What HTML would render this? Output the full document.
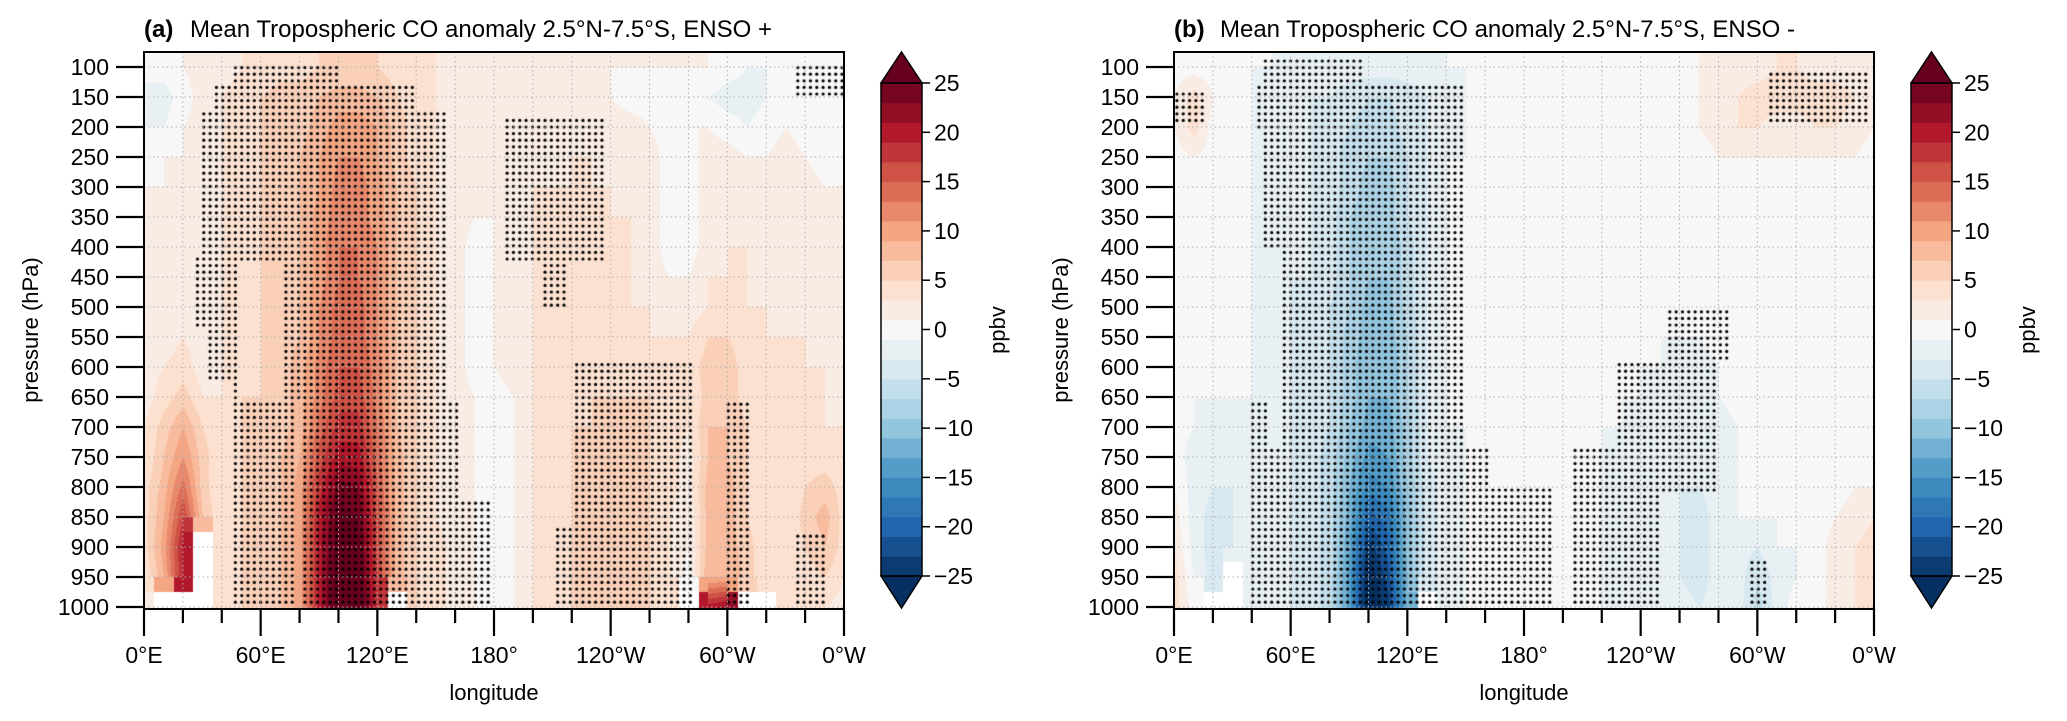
<!DOCTYPE html>
<html><head><meta charset="utf-8">
<style>
html,body{margin:0;padding:0;background:#fff;}
#wrap{position:relative;width:2067px;height:721px;overflow:hidden;}
canvas,svg{position:absolute;left:0;top:0;}
text{font-family:"Liberation Sans",sans-serif;fill:#000;}
</style></head>
<body>
<div id="wrap">
<canvas id="cv" width="2067" height="721"></canvas>
<svg id="sv" width="2067" height="721"></svg>
</div>
<script>
// ---- data ----
const LONS = [0,10,20,30,40,50,60,70,80,90,100,110,120,130,140,150,160,170,180,190,200,210,220,230,240,250,260,270,280,290,300,310,320,330,340,350,360];
const PRESS = [100,150,200,250,300,350,400,450,500,550,600,650,700,750,800,850,900,950,1000];
const N = NaN;
const fieldA = [
[-1,0,1,2,2,3,3,4,4,5,5,5,5,4,3,3,2,2,1,1,1,2,2,1,1,1,1,1,1,1,0,-1,-1,0,-1,-1,-1],
[-1,-2,0,2,3,4,5,6,6,7,8,8,7,5,4,3,2,2,1,1,1,1,1,1,1,0,0,0,-1,-1,-2,-2,-1,0,-1,-1,-1],
[-1,-1,1,2,3,4,5,6,6,8,10,10,9,6,4,3,2,2,2,1,1,2,2,2,2,2,1,0,1,1,0,-1,0,1,0,-1,-1],
[0,1,1,2,3,4,5,6,7,9,11,11,9,6,4,3,2,1,2,2,2,2,3,3,2,2,2,0,0,2,2,1,1,2,1,0,0],
[1,1,1,2,3,4,5,6,7,9,12,12,10,7,5,3,2,1,2,2,3,3,3,3,3,2,2,0,0,2,2,2,2,2,2,1,1],
[1,1,2,2,3,4,5,6,7,10,12,12,10,7,5,3,2,1,1,2,3,3,3,3,3,3,2,0,0,2,3,2,2,2,2,1,1],
[1,2,2,2,3,4,5,6,7,10,13,13,11,7,5,3,2,0,1,2,3,3,3,3,3,3,2,0,0,2,3,3,2,2,2,1,1],
[1,2,2,2,3,4,5,6,7,10,13,13,11,7,5,3,2,0,1,2,3,3,3,3,3,3,2,1,1,3,3,3,2,2,2,1,1],
[2,2,3,2,3,4,5,6,7,11,14,14,11,7,5,3,2,0,1,2,3,3,3,3,3,3,3,2,2,3,4,3,3,2,2,2,2],
[2,2,3,2,3,4,5,6,7,11,14,14,11,7,5,3,2,0,1,2,3,3,3,3,3,3,3,3,3,5,5,4,3,3,3,2,2],
[2,3,4,2,3,4,5,6,8,12,15,15,12,7,5,3,2,0,1,2,3,3,4,4,4,4,4,4,4,6,6,4,3,3,3,3,2],
[2,4,6,3,3,5,5,6,8,12,16,16,12,7,5,3,2,1,0,1,3,3,4,5,5,5,5,4,3,6,6,4,3,3,3,3,2],
[3,6,9,5,3,5,5,6,8,14,18,18,13,7,5,3,2,1,0,1,3,4,5,5,6,6,5,4,3,7,7,5,3,3,3,3,3],
[3,7,11,6,3,5,6,7,9,16,20,20,14,8,5,3,2,1,0,1,3,4,5,6,6,6,5,4,2,7,7,5,3,3,4,4,3],
[4,8,14,6,3,5,6,7,10,18,24,23,15,8,5,3,2,1,0,1,3,4,5,6,6,6,5,4,2,8,8,5,3,3,5,6,4],
[4,9,17,7,3,5,6,7,10,20,26,25,16,8,5,3,2,1,0,1,3,4,5,6,6,6,5,3,1,8,8,5,3,3,6,8,4],
[4,10,20,N,3,5,6,7,10,20,27,26,16,8,5,4,2,1,0,1,3,4,5,6,6,6,5,3,1,8,8,6,3,3,5,7,4],
[3,9,19,N,3,5,6,7,10,20,28,27,17,8,5,4,2,1,0,1,3,4,5,6,6,6,5,3,0,9,9,6,3,3,4,5,3],
[2,N,N,N,3,5,6,7,10,20,28,28,18,N,5,4,2,1,0,1,3,4,5,6,6,6,5,3,N,20,22,N,N,3,3,3,2]
];
const fieldB = [
[0,0,0,0,-1,-1,-2,-2,-2,-2,-2,-2,-2,-2,-1,-1,-1,-1,-1,-1,-1,-1,0,0,0,0,0,1,2,2,2,3,3,2,2,2,2],
[1,4,1,-1,-1,-2,-3,-3,-3,-4,-5,-5,-4,-3,-2,-1,-1,-1,0,0,0,-1,-1,0,0,0,0,1,2,3,4,4,4,4,4,3,2],
[1,4,0,-1,-1,-2,-3,-3,-4,-5,-6,-6,-4,-3,-2,-1,0,0,0,-1,-1,-1,-1,-1,-1,0,0,1,2,3,3,2,2,3,3,2,1],
[0,1,0,-1,-1,-2,-3,-3,-4,-6,-7,-7,-5,-3,-1,-1,0,0,0,-1,-1,-1,-1,-1,-1,-1,0,0,1,1,1,1,1,1,1,1,0],
[0,0,0,-1,-1,-2,-3,-3,-4,-6,-8,-8,-5,-3,-1,-1,0,0,0,-1,-1,-1,-1,-1,-1,-1,0,0,0,0,0,0,0,0,0,0,0],
[0,0,0,-1,-1,-2,-3,-3,-4,-7,-8,-8,-5,-3,-1,-1,0,0,0,-1,-1,-1,-1,-1,-1,-1,0,0,0,0,0,0,0,0,0,0,0],
[0,0,-1,-1,-1,-2,-3,-3,-4,-7,-9,-9,-6,-3,-1,-1,0,0,0,-1,-1,-1,-1,-1,-1,-1,-1,0,0,0,0,0,0,0,0,0,0],
[0,0,-1,-1,-1,-2,-3,-3,-4,-7,-9,-9,-6,-3,-1,-1,0,0,0,-1,-1,-1,-1,-1,-1,-1,-1,0,0,0,0,0,0,0,0,0,0],
[0,-1,-1,-1,-1,-2,-3,-4,-5,-7,-10,-10,-6,-3,-1,-1,0,0,0,-1,-1,-1,-1,-1,-1,-1,-1,-1,0,0,0,0,0,0,0,0,0],
[0,-1,-1,-1,-1,-2,-3,-4,-5,-8,-10,-10,-7,-3,-1,-1,0,0,0,-1,-1,-1,-1,-1,-1,-1,-1,-1,0,0,0,0,0,0,0,0,0],
[0,-1,-1,-1,-1,-2,-3,-4,-5,-8,-11,-11,-7,-3,-1,-1,0,0,0,0,-1,-1,-1,-1,-1,-1,-2,-2,-1,0,0,0,-1,-1,0,0,0],
[0,-1,-1,-1,-1,-2,-3,-4,-5,-8,-11,-11,-7,-3,-1,-1,0,0,0,0,-1,-1,-1,-1,-1,-2,-3,-2,-1,0,0,0,-1,-1,0,0,0],
[0,-1,-2,-2,-1,-2,-3,-4,-5,-9,-12,-12,-8,-3,-1,-1,0,0,0,0,-1,-1,-1,-1,-2,-2,-3,-3,-2,-1,0,0,-1,-1,0,0,0],
[0,-2,-3,-3,-2,-2,-3,-4,-6,-10,-14,-13,-8,-3,-2,-1,-1,0,0,0,-1,-1,-1,-2,-2,-2,-3,-3,-2,-1,-1,0,-1,-1,0,0,1],
[1,-2,-3,-3,-2,-2,-3,-4,-6,-11,-16,-15,-9,-4,-2,-1,-1,0,0,0,-1,-1,-1,-2,-2,-2,-3,-3,-2,-1,-1,-1,-1,-1,0,1,1],
[2,-2,-4,-3,-2,-2,-3,-4,-6,-12,-20,-18,-10,-4,-2,-1,-1,0,0,0,-1,-1,-1,-2,-2,-2,-3,-4,-2,-1,-1,-1,-1,0,1,2,3],
[3,-2,-4,-3,-2,-2,-3,-4,-6,-13,-24,-20,-10,-4,-2,-1,-1,-1,-1,-1,-1,-1,-1,-2,-2,-2,-3,-4,-2,-2,-3,-1,-1,0,2,3,4],
[4,-1,-4,N,-2,-2,-3,-4,-6,-14,-27,-22,-11,-4,-2,-1,-1,-1,-1,-1,-1,-1,-1,-2,-2,-2,-3,-4,-2,-2,-5,-2,-1,0,2,3,4],
[4,0,N,N,-2,-2,-3,-4,-6,-14,-28,-24,-12,N,-2,-1,-1,-1,-1,-1,-1,-1,-1,-2,-2,-2,-2,-3,-2,-2,-6,-2,0,0,2,3,4]
];
// significance regions [lonStart, lonEnd, pTop, pBottom]
const stippleA = [
[47,102,96,126],[37,140,126,174],[28,156,174,420],[26,49,420,540],[34,49,540,620],[44,50,620,660],
[70,156,420,660],[44,79,660,1000],[82,161,660,820],[82,180,820,1000],
[184,238,186,420],[205,219,420,504],[221,282,588,1000],[210,221,864,1000],
[298,313,654,1000],[336,350,876,1000],[336,360,96,150]
];
const stippleB = [
[47,98,84,132],[43,149,132,210],[45,149,210,400],[55,149,400,732],[38,50,660,732],
[38,161,732,1000],[161,196,804,1000],[205,238,738,1000],[226,280,588,810],[252,287,504,588],
[238,249,810,1000],[296,305,918,1000],[305,358,108,192],[1,15,144,192]
];
const cbTicks = [25,20,15,10,5,0,-5,-10,-15,-20,-25];
const yTicks = [100,150,200,250,300,350,400,450,500,550,600,650,700,750,800,850,900,950,1000];
const xTickVals = [0,60,120,180,240,300,360];
const xTickLabels = ['0°E','60°E','120°E','180°','120°W','60°W','0°W'];

// ---- layout ----
const PW = 700, YT = 52, YB = 609;
const panels = [
 {x0:144, field:fieldA, stip:stippleA, cb:881, lab:'(a)', title:'Mean Tropospheric CO anomaly 2.5°N-7.5°S, ENSO +', tl:582, name:'a'},
 {x0:1174, field:fieldB, stip:stippleB, cb:1911, lab:'(b)', title:'Mean Tropospheric CO anomaly 2.5°N-7.5°S, ENSO -', tl:575, name:'b'}
];
const py = p => 67 + (p-100)*0.6;
const lx = (P,l) => P.x0 + l/360*PW;

const anchors = ['#053061','#2166ac','#4393c3','#92c5de','#d1e5f0','#f7f7f7','#fddbc7','#f4a582','#d6604d','#b2182b','#67001f'];
function hex(h){return [parseInt(h.substr(1,2),16),parseInt(h.substr(3,2),16),parseInt(h.substr(5,2),16)];}
function cmap(t){t=Math.max(0,Math.min(1,t));const s=t*10;const i=Math.min(9,Math.floor(s));const f=s-i;
 const a=hex(anchors[i]),b=hex(anchors[i+1]);return [0,1,2].map(k=>Math.round(a[k]+(b[k]-a[k])*f));}
function bandColor(v){
 if(v>25) return [103,0,31];
 if(v<-25) return [5,48,97];
 let i=Math.floor((v+25)/2); if(i>24)i=24; if(i<0)i=0;
 const c=-24+2*i; return cmap((c+25)/50);
}
function sample(F,lon,p){
 let fi=lon/10, fj=(p-100)/50; if(fj<0)fj=0; if(fj>18)fj=18;
 let i=Math.min(35,Math.floor(fi)), j=Math.min(17,Math.floor(fj));
 const u=fi-i, w=fj-j;
 const ni=Math.round(fi), nj=Math.round(fj);
 const nv=F[nj][ni]; if(isNaN(nv)) return NaN;
 const a=F[j][i],b=F[j][i+1],c=F[j+1][i],d=F[j+1][i+1];
 if(isNaN(a)||isNaN(b)||isNaN(c)||isNaN(d)) return nv;
 return a*(1-u)*(1-w)+b*u*(1-w)+c*(1-u)*w+d*u*w;
}

const cv=document.getElementById('cv'); const ctx=cv.getContext('2d');
const img=ctx.createImageData(2067,721);
panels.forEach(P=>{
 for(let y=YT;y<YB;y++){
  const p=(y-67)/0.6+100;
  for(let x=P.x0;x<P.x0+PW;x++){
   const lon=(x-P.x0)/PW*360;
   const v=sample(P.field,lon,p);
   const col=isNaN(v)?[255,255,255]:bandColor(v);
   const k=(y*2067+x)*4; img.data[k]=col[0];img.data[k+1]=col[1];img.data[k+2]=col[2];img.data[k+3]=255;
  }
 }
});
ctx.putImageData(img,0,0);
// stipple dots
ctx.fillStyle='#000';
panels.forEach(P=>{
 for(let p=90;p<=1000;p+=11){
  for(let l=1.5;l<360;l+=3.25){
   if(P.stip.some(r=>l>=r[0]&&l<=r[1]&&p>=r[2]&&p<=r[3])){
    ctx.beginPath();ctx.arc(lx(P,l),py(p),1.6,0,Math.PI*2);ctx.fill();
   }
  }
 }
});

// ---- SVG overlay ----
const NS='http://www.w3.org/2000/svg';
const sv=document.getElementById('sv');
function mk(tag,attrs,parent){const e=document.createElementNS(NS,tag);for(const k in attrs)e.setAttribute(k,attrs[k]);(parent||sv).appendChild(e);return e;}

panels.forEach(P=>{
 const g=mk('g',{});
 
 
 for(let l=20;l<360;l+=20){const gl=mk('line',{x1:lx(P,l),x2:lx(P,l),y1:YT,y2:YB,stroke:'#b0b0b0','stroke-width':1,'stroke-dasharray':'1.5,3'},g);
  }
 yTicks.forEach(p=>{const gl=mk('line',{x1:P.x0,x2:P.x0+PW,y1:py(p),y2:py(p),stroke:'#b0b0b0','stroke-width':1,'stroke-dasharray':'1.5,3'},g);
  });
 const fr=mk('rect',{x:P.x0,y:YT,width:PW,height:YB-YT,fill:'none',stroke:'#000','stroke-width':2},g);
 
 yTicks.forEach(p=>{
  const t=mk('line',{x1:P.x0-28,x2:P.x0,y1:py(p),y2:py(p),stroke:'#000','stroke-width':2.2},g);
  
  const tx=mk('text',{x:P.x0-35,y:py(p)+8,'text-anchor':'end','font-size':23},g);tx.textContent=p;
  
 });
 for(let l=0;l<=360;l+=20){
  const major=l%60===0;
  const t=mk('line',{x1:lx(P,l),x2:lx(P,l),y1:YB,y2:YB+(major?27:14),stroke:'#000','stroke-width':2.2},g);
  
 }
 xTickVals.forEach((l,i)=>{
  const tx=mk('text',{x:lx(P,l),y:663,'text-anchor':'middle','font-size':23},g);tx.textContent=xTickLabels[i];
  
 });
 const xt=mk('text',{x:P.x0+PW/2,y:700,'text-anchor':'middle','font-size':22},g);xt.textContent='longitude';
 
 const yt=mk('text',{x:0,y:0,'text-anchor':'middle','font-size':22,transform:`translate(${P.x0-106},330) rotate(-90)`},g);yt.textContent='pressure (hPa)';
 
 const tl=mk('text',{x:P.x0,y:37,'font-size':24,'font-weight':'bold'},g);tl.textContent=P.lab;
 
 const tt=mk('text',{x:P.x0+46,y:37,'font-size':24,textLength:P.tl,lengthAdjust:'spacingAndGlyphs'},g);tt.textContent=P.title;
 
 const cbg=mk('g',{},g);
 
 const cx=P.cb, cw=41, cy=v=>83+(25-v)*9.86;
 for(let i=0;i<25;i++){
  const lo=-25+2*i, hi=lo+2;const c=bandColor(lo+1);
  const r=mk('rect',{x:cx,y:cy(hi),width:cw,height:cy(lo)-cy(hi)+0.5,fill:`rgb(${c})`},cbg);
  
 }
 const up=mk('polygon',{points:`${cx},${cy(25)} ${cx+cw/2},52 ${cx+cw},${cy(25)}`,fill:'rgb(103,0,31)',stroke:'#000','stroke-width':1.5},cbg);
 
 const dn=mk('polygon',{points:`${cx},${cy(-25)} ${cx+cw/2},608 ${cx+cw},${cy(-25)}`,fill:'rgb(5,48,97)',stroke:'#000','stroke-width':1.5},cbg);
 
 const cf=mk('rect',{x:cx,y:cy(25),width:cw,height:cy(-25)-cy(25),fill:'none',stroke:'#000','stroke-width':1.5},cbg);
 
 cbTicks.forEach(v=>{
  const t=mk('line',{x1:cx+cw,x2:cx+cw+8,y1:cy(v),y2:cy(v),stroke:'#000','stroke-width':1.5},cbg);
  
  const tx=mk('text',{x:cx+cw+12,y:cy(v)+8,'font-size':23},cbg);tx.textContent=v<0?'−'+(-v):v;
  
 });
 const ul=mk('text',{x:0,y:0,'text-anchor':'middle','font-size':22,transform:`translate(${cx+cw+83},330) rotate(-90)`},cbg);ul.textContent='ppbv';
 
});
</script>
</body></html>
